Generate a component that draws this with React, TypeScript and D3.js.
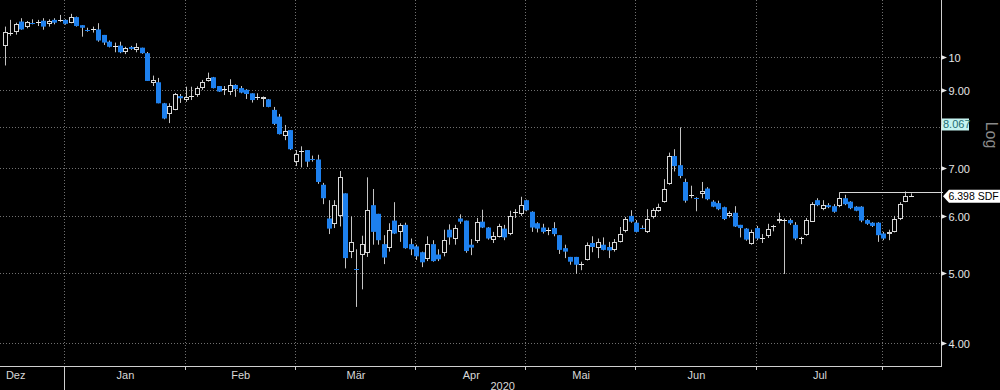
import React from 'react';
import * as d3 from 'd3';

// OHLC per trading day (Dec 11 2019 .. Aug 5 2020)
const opens = [
  10.37, 10.76, 10.82, 11.20, 11.00, 11.15, 11.15, 11.23, 11.10, 11.26,
  11.22, 11.26, 11.16, 11.36, 11.07, 10.93, 10.90, 10.92, 10.73, 10.50,
  10.32, 10.37, 10.15, 10.32, 10.23, 10.30, 10.12, 9.19, 9.22, 8.62,
  8.33, 8.44, 8.82, 8.71, 8.80, 8.85, 9.05, 9.26, 9.37, 9.11,
  8.99, 8.95, 9.14, 9.05, 9.00, 8.90, 8.77, 8.74, 8.73, 8.44,
  8.26, 7.76, 7.91, 7.15, 7.39, 7.42, 7.22, 7.20, 6.64, 5.96,
  5.85, 6.01, 6.46, 5.36, 5.09, 5.30, 5.33, 6.22, 6.05, 5.49,
  5.42, 5.92, 5.71, 5.84, 5.49, 5.45, 5.35, 5.23, 5.49, 5.31,
  5.33, 5.75, 5.59, 5.96, 5.92, 5.48, 5.54, 5.90, 5.79, 5.56,
  5.62, 5.77, 5.67, 6.06, 6.05, 6.32, 6.09, 5.87, 5.79, 5.73,
  5.78, 5.65, 5.42, 5.27, 5.27, 5.15, 5.22, 5.51, 5.42, 5.48,
  5.44, 5.39, 5.53, 5.73, 6.01, 5.88, 5.81, 5.71, 5.98, 6.11,
  6.29, 6.66, 7.28, 7.07, 6.70, 6.40, 6.38, 6.44, 6.56, 6.29,
  6.26, 6.18, 6.00, 6.07, 5.84, 5.77, 5.49, 5.78, 5.58, 5.63,
  5.80, 5.91, 5.92, 5.93, 5.84, 5.58, 5.65, 5.90, 6.32, 6.15,
  6.22, 6.20, 6.20, 6.36, 6.29, 6.19, 6.19, 5.93, 5.88, 5.88,
  5.68, 5.68, 5.71, 5.95, 6.29, 6.39,
];
const highs = [
  11.02, 11.26, 11.16, 11.32, 11.22, 11.28, 11.26, 11.32, 11.28, 11.32,
  11.44, 11.28, 11.48, 11.38, 11.07, 10.98, 11.02, 11.14, 10.73, 10.54,
  10.47, 10.50, 10.33, 10.36, 10.45, 10.30, 10.16, 9.42, 9.35, 8.63,
  8.62, 8.91, 8.88, 9.09, 9.09, 9.10, 9.29, 9.51, 9.38, 9.11,
  9.11, 9.31, 9.16, 9.11, 9.02, 8.90, 8.90, 8.81, 8.74, 8.52,
  8.33, 8.04, 7.91, 7.42, 7.51, 7.42, 7.29, 7.31, 6.68, 6.32,
  6.32, 6.94, 6.46, 6.00, 5.40, 5.64, 6.80, 6.55, 6.05, 5.65,
  5.87, 6.28, 5.87, 5.88, 5.59, 5.48, 5.36, 5.63, 5.56, 5.40,
  5.75, 5.85, 5.84, 6.04, 5.92, 5.58, 5.97, 6.13, 5.80, 5.71,
  5.86, 5.84, 6.11, 6.14, 6.39, 6.33, 6.10, 5.89, 5.86, 5.79,
  5.89, 5.65, 5.48, 5.27, 5.27, 5.19, 5.52, 5.63, 5.59, 5.61,
  5.53, 5.58, 5.80, 5.99, 6.12, 5.93, 5.83, 6.14, 6.16, 6.25,
  6.76, 7.36, 7.44, 7.98, 6.77, 6.62, 6.38, 6.70, 6.59, 6.32,
  6.31, 6.19, 6.10, 6.20, 5.84, 5.78, 5.75, 5.82, 5.67, 5.86,
  5.84, 6.07, 5.96, 5.96, 5.89, 5.62, 5.97, 6.28, 6.36, 6.32,
  6.26, 6.24, 6.48, 6.43, 6.30, 6.20, 6.20, 5.95, 5.89, 5.89,
  5.71, 5.75, 6.01, 6.28, 6.50, 6.46,
];
const lows = [
  9.73, 10.70, 10.74, 10.91, 10.96, 11.10, 11.04, 10.91, 11.02, 11.10,
  11.19, 11.09, 11.14, 11.02, 10.67, 10.84, 10.81, 10.50, 10.39, 10.31,
  10.15, 10.12, 10.09, 10.23, 10.15, 10.10, 9.26, 9.11, 8.62, 8.19,
  8.09, 8.43, 8.63, 8.66, 8.71, 8.80, 9.00, 9.24, 9.04, 8.94,
  8.85, 8.85, 8.80, 8.90, 8.74, 8.64, 8.71, 8.52, 8.51, 8.04,
  7.80, 7.66, 7.42, 7.05, 7.02, 7.03, 7.15, 6.66, 6.24, 5.67,
  5.78, 5.81, 5.08, 5.25, 4.49, 4.75, 5.27, 5.48, 5.48, 5.15,
  5.36, 5.67, 5.53, 5.41, 5.30, 5.22, 5.10, 5.20, 5.19, 5.20,
  5.28, 5.48, 5.48, 5.86, 5.34, 5.30, 5.51, 5.78, 5.57, 5.51,
  5.61, 5.56, 5.65, 5.97, 6.01, 6.10, 5.71, 5.70, 5.68, 5.65,
  5.63, 5.32, 5.25, 5.14, 4.99, 5.05, 5.21, 5.35, 5.25, 5.38,
  5.25, 5.36, 5.52, 5.70, 5.88, 5.70, 5.76, 5.69, 5.96, 6.09,
  6.27, 6.64, 6.93, 6.78, 6.27, 6.36, 6.10, 6.36, 6.32, 6.18,
  6.12, 5.93, 5.98, 5.80, 5.61, 5.55, 5.48, 5.56, 5.51, 5.60,
  5.72, 5.87, 4.99, 5.84, 5.56, 5.49, 5.64, 5.90, 6.20, 6.12,
  6.16, 6.07, 6.18, 6.22, 6.14, 6.10, 5.89, 5.84, 5.80, 5.53,
  5.56, 5.56, 5.70, 5.93, 6.28, 6.39,
];
const closes = [
  10.82, 10.79, 11.10, 10.92, 11.18, 11.13, 11.17, 11.02, 11.22, 11.16,
  11.24, 11.12, 11.38, 11.04, 10.98, 10.91, 10.92, 10.54, 10.47, 10.33,
  10.34, 10.15, 10.28, 10.26, 10.33, 10.12, 9.26, 9.29, 8.62, 8.21,
  8.55, 8.88, 8.76, 8.79, 8.82, 9.06, 9.24, 9.34, 9.05, 8.95,
  9.01, 9.14, 9.02, 8.92, 8.88, 8.71, 8.79, 8.80, 8.52, 8.07,
  7.81, 7.89, 7.44, 7.32, 7.40, 7.15, 7.20, 6.70, 6.36, 5.77,
  6.22, 6.81, 5.25, 5.52, 5.07, 5.49, 6.12, 5.71, 5.56, 5.26,
  5.75, 5.68, 5.84, 5.42, 5.40, 5.28, 5.18, 5.49, 5.20, 5.23,
  5.56, 5.61, 5.78, 5.90, 5.37, 5.43, 5.90, 5.79, 5.59, 5.63,
  5.82, 5.61, 6.01, 6.08, 6.22, 6.12, 5.79, 5.77, 5.71, 5.74,
  5.67, 5.39, 5.36, 5.19, 5.14, 5.16, 5.48, 5.44, 5.53, 5.39,
  5.38, 5.53, 5.67, 5.95, 5.90, 5.71, 5.79, 5.96, 6.12, 6.19,
  6.56, 7.28, 7.05, 6.83, 6.31, 6.42, 6.36, 6.51, 6.34, 6.19,
  6.14, 5.95, 6.07, 5.81, 5.78, 5.57, 5.71, 5.59, 5.60, 5.76,
  5.82, 5.95, 5.93, 5.87, 5.59, 5.60, 5.93, 6.24, 6.22, 6.22,
  6.18, 6.09, 6.36, 6.24, 6.16, 6.11, 5.92, 5.86, 5.82, 5.65,
  5.59, 5.71, 5.96, 6.25, 6.41, 6.398,
];

// month labels and the trading-day index where each month starts
const monthLabels = ['Dez', 'Jan', 'Feb', 'Mär', 'Apr', 'Mai', 'Jun', 'Jul'];
const monthStarts = [-7, 11, 33, 53, 75, 95, 115, 137, 160];
const yearLabel = '2020';
const yearStartIdx = 11;

const yTicks = [4, 5, 6, 7, 8, 9, 10];
// the 8.00 label sits beneath the 8.067 marker box, so it is not shown
const yTickLabels = ['4.00', '5.00', '6.00', '7.00', '', '9.00', '10'];

const lastPrice = 6.398;
const lastLabel = '6.398 SDF GY Equity';
const markerPrice = 8.067;
const markerLabel = '8.067';
const highLineIdx = 152;

const BLUE = '#1d80ee';
const WICK = '#c4c4c4';
const HOLLOW = '#d8d8d8';
const GRID = '#707070';
const FONT = '"Liberation Sans", Arial, sans-serif';

export default function App() {
  const W = 1000;
  const H = 390;
  const plotR = 941;
  const plotB = 366;
  const n = closes.length;

  const x = d3.scaleLinear().domain([0, n - 1]).range([4.7, 4.7 + (n - 1) * 5.49]);
  const y = d3.scaleLog().domain([3.716, 12]).range([plotB, 0]);

  const candles = closes.map((c, i) => {
    const o = opens[i];
    const cx = Math.round(x(i));
    const yo = y(o);
    const yc = y(c);
    const yh = y(highs[i]);
    const yl = y(lows[i]);
    const up = c >= o;
    const top = Math.min(yo, yc);
    const bot = Math.max(yo, yc);
    const wx = cx + 0.5;
    if (bot - top < 1.5) {
      const yy = Math.round(yc) + 0.5;
      return (
        <g key={i}>
          <line x1={wx} x2={wx} y1={yh} y2={yl} stroke={WICK} strokeWidth={1} />
          <line x1={cx - 2} x2={cx + 3} y1={yy} y2={yy} stroke={up ? '#e8e8e8' : BLUE} strokeWidth={1} />
        </g>
      );
    }
    if (up) {
      const rt = Math.round(top);
      const rb = Math.round(bot);
      return (
        <g key={i}>
          <line x1={wx} x2={wx} y1={yh} y2={rt} stroke={WICK} strokeWidth={1} />
          <line x1={wx} x2={wx} y1={rb} y2={yl} stroke={WICK} strokeWidth={1} />
          <rect x={cx - 1.5} y={rt + 0.5} width={4} height={Math.max(1, rb - rt - 1)} fill="#000" stroke={HOLLOW} strokeWidth={1} />
        </g>
      );
    }
    return (
      <g key={i}>
        <line x1={wx} x2={wx} y1={yh} y2={yl} stroke={WICK} strokeWidth={1} />
        <rect x={cx - 2} y={top} width={5} height={bot - top} fill={BLUE} />
      </g>
    );
  });

  const gx = (idx: number) => Math.round(x(idx)) - 0.5;
  const gy = (v: number) => Math.round(y(v)) + 0.5;

  const yLast = y(lastPrice);
  const yMark = y(markerPrice);
  const yHigh = gy(highs[highLineIdx]);

  return (
    <svg width={W} height={H} style={{ position: 'absolute', left: 0, top: 0, background: '#000' }} fontFamily={FONT}>
      <rect x={0} y={0} width={W} height={H} fill="#000" />
      {/* grid */}
      {yTicks.map((t) => (
        <line key={'hg' + t} x1={0} x2={plotR} y1={gy(t)} y2={gy(t)} stroke={GRID} strokeDasharray="1 2" />
      ))}
      {monthStarts.slice(1).map((m) => (
        <line key={'vg' + m} x1={gx(m)} x2={gx(m)} y1={0} y2={plotB} stroke={GRID} strokeDasharray="1 2" />
      ))}
      {/* candles */}
      {candles}
      {/* high level line */}
      <line x1={Math.round(x(highLineIdx)) + 0.5} x2={plotR + 2} y1={yHigh} y2={yHigh} stroke="#d8d8d8" strokeWidth={1} />
      {/* axes */}
      <line x1={0} x2={plotR + 0.5} y1={plotB + 0.5} y2={plotB + 0.5} stroke="#cfcfcf" />
      <line x1={plotR + 0.5} x2={plotR + 0.5} y1={0} y2={plotB + 1} stroke="#cfcfcf" />
      {/* month ticks and labels */}
      {monthStarts.slice(1).map((m) => (
        <line key={'mt' + m} x1={gx(m)} x2={gx(m)} y1={plotB} y2={m === yearStartIdx ? H : plotB + 4} stroke="#cfcfcf" />
      ))}
      {monthLabels.map((lab, k) => (
        <text key={lab} x={(x(monthStarts[k]) + x(monthStarts[k + 1])) / 2} y={378.5} fill="#d8d8d8" fontSize={11} textAnchor="middle">
          {lab}
        </text>
      ))}
      <text x={(gx(yearStartIdx) + plotR) / 2} y={389.5} fill="#d8d8d8" fontSize={11} textAnchor="middle">
        {yearLabel}
      </text>
      {/* y ticks */}
      {yTicks.map((t, k) => {
        const ty = Math.round(y(t)) + 0.5;
        return (
          <g key={'yt' + t}>
            <polygon points={`${plotR},${ty - 2.5} ${plotR + 6},${ty} ${plotR},${ty + 2.5}`} fill="#e6e6e6" />
            {yTickLabels[k] ? (
              <text x={plotR + 7.5} y={ty + 4} fill="#e6e6e6" fontSize={11}>
                {yTickLabels[k]}
              </text>
            ) : null}
          </g>
        );
      })}
      {/* marker label */}
      <rect x={plotR + 1} y={yMark - 5.5} width={27} height={12} fill="#c4f4f1" />
      <text x={plotR + 2} y={yMark + 4} fill="#1f6d72" fontSize={11}>
        {markerLabel}
      </text>
      {/* last price label */}
      <polygon
        points={`${plotR + 2},${yLast} ${plotR + 8},${yLast - 6.5} ${W + 5},${yLast - 6.5} ${W + 5},${yLast + 6.5} ${plotR + 8},${yLast + 6.5}`}
        fill="#ffffff"
      />
      <text x={plotR + 7.5} y={yLast + 4} fill="#000" fontSize={10.5}>
        {lastLabel}
      </text>
      {/* Log label */}
      <text x={990} y={135} fill="#8a8a8a" fontSize={16} textAnchor="middle" transform="rotate(90 990 135)" dominantBaseline="middle">
        Log
      </text>
    </svg>
  );
}
